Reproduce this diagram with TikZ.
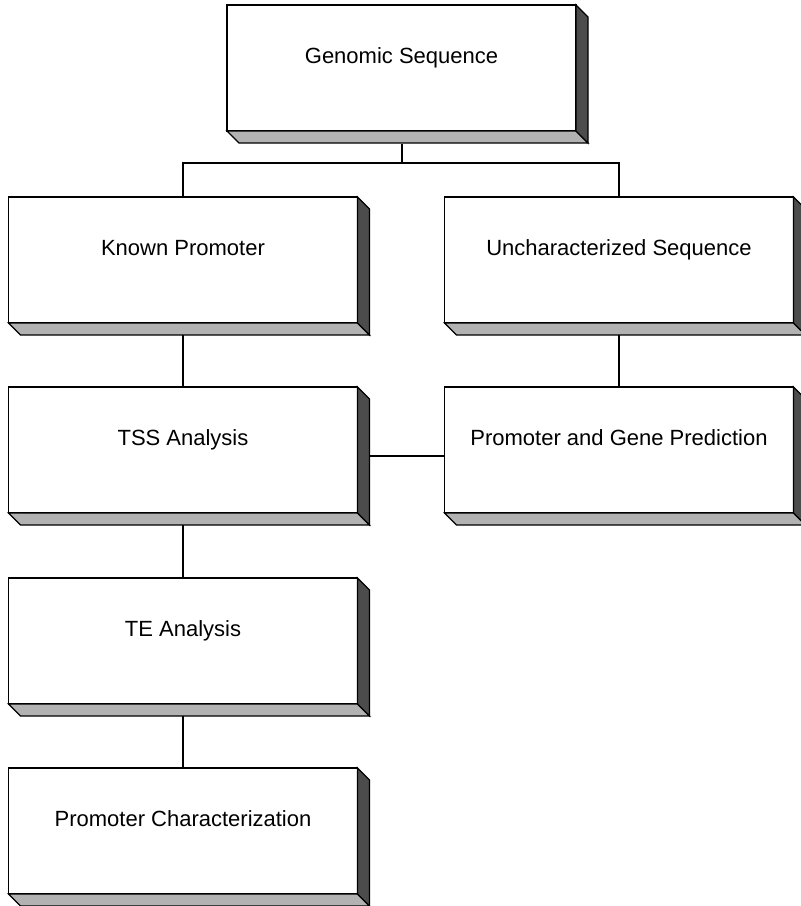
\documentclass[tikz,border=0pt]{standalone}
\usepackage{fontspec}
\setmainfont{Liberation Sans}
\usetikzlibrary{calc}
\tikzset{
  front/.style={draw=black, fill=white, line width=1.3bp, minimum width=349bp, minimum height=126bp, inner sep=0pt, outer sep=0pt},
  boxtext/.style={font=\fontsize{22bp}{26bp}\selectfont, inner sep=0pt, text height=16bp, text depth=4bp},
  bottomface/.style={draw=black, fill=black!30, line width=1.3bp, line join=miter},
  sideface/.style={draw=black, fill=black!70, line width=1.3bp, line join=miter},
  conn/.style={draw=black, line width=1.3bp}
}
\newcommand{\solidbox}[4]{%
  \node[front] (#1) at (#2,#3) {};
  \node[boxtext] (#1T) at ($(#1.center)+(0,-11)$) {#4};
  \draw[bottomface] (#1.south west) -- (#1.south east) -- ++(12,12) -- ($(#1.south west)+(12,12)$) -- cycle;
  \draw[sideface] (#1.north east) -- ++(12,12) -- ($(#1.south east)+(12,12)$) -- (#1.south east) -- cycle;
  \coordinate (#1B) at ($(#1.south)+(6,12)$);
  \coordinate (#1R) at ($(#1.east)+(12,6)$);
}
\begin{document}
\begin{tikzpicture}[x=1bp, y=-1bp]
\useasboundingbox (0,0) rectangle (801,906);
\solidbox{gen}{401.5}{68}{Genomic Sequence}
\solidbox{known}{183}{260}{Known Promoter}
\solidbox{unch}{619}{260}{Uncharacterized Sequence}
\solidbox{tss}{183}{450}{TSS Analysis}
\solidbox{pgp}{619}{450}{Promoter and Gene Prediction}
\solidbox{te}{183}{641}{TE Analysis}
\solidbox{pc}{183}{831}{Promoter Characterization}
% connectors
\coordinate (split) at (402,163);
\draw[conn] (402,144) -- (split);
\draw[conn] (known.north) |- (split) -| (unch.north);
\draw[conn] (183,335) -- (tss.north);
\draw[conn] (619,335) -- (pgp.north);
\draw[conn] (370,456) -- (pgp.west |- 0,456);
\draw[conn] (183,525) -- (te.north);
\draw[conn] (183,716) -- (pc.north);
\end{tikzpicture}
\end{document}
